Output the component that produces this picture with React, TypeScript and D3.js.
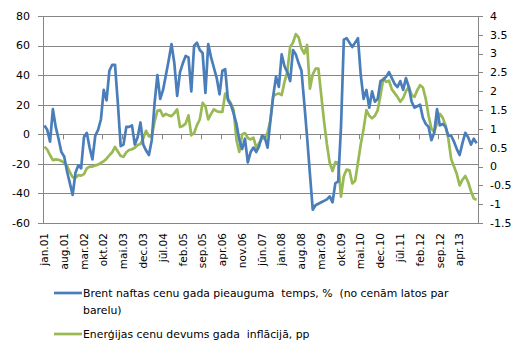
import React, { useEffect, useRef } from 'react';
import * as d3 from 'd3';

const monthNames = ['jan', 'feb', 'mar', 'apr', 'mai', 'jūn', 'jūl', 'aug', 'sep', 'okt', 'nov', 'dec'];
const startYear = 2001;
const labelEvery = 7;

// Brent naftas cenu gada pieauguma temps, % (left axis)
const brent = [
  6, 3, -5, 17, 5, -3, -12, -15, -25, -33,
  -41, -26, -21, -23, -2, 1, -9, -17, -1, 3,
  10, 30, 23, 43, 47, 47, 21, -8, -7, 5,
  5, 6, -7, -2, 8, -7, -11, -14, -4, 21,
  40, 24, 30, 40, 50, 61, 48, 26, 42, 48,
  53, 52, 29, 60, 62, 57, 55, 28, 61, 52,
  45, 38, 27, 43, 44, 23, 20, 14, 7, -4,
  -10, -3, -19, -12, -9, -12, -8, -1, -2, -9,
  9, 26, 39, 32, 54, 46, 42, 36, 57, 54,
  48, 43, 21, -2, -27, -51, -48, -47, -46, -45,
  -44, -42, -46, -33, -32, 5, 64, 65, 62, 59,
  62, 65, 40, 24, 30, 18, 29, 22, 24, 36,
  37, 39, 42, 38, 34, 32, 36, 30, 38, 32,
  22, 18, 19, 20, 11, 7, 5, -4, 1, 17,
  6, 7, 5, -1, -1, -5, -10, -14, -6, 1,
  -2, -7, -3, -6,
];

// Enerģijas cenu devums gada inflācijā, pp (right axis)
const energy = [
  0.53, 0.45, 0.3, 0.17, 0.19, 0.18, 0.15, 0.1, 0.02, -0.15,
  -0.28, -0.3, -0.23, -0.24, -0.2, -0.05, 0, 0, 0.03, 0.05,
  0.1, 0.14, 0.21, 0.3, 0.38, 0.52, 0.4, 0.28, 0.26, 0.38,
  0.44, 0.46, 0.5, 0.57, 0.6, 0.75, 0.95, 0.8, 0.8, 1.2,
  1.48, 1.5, 1.34, 1.4, 1.36, 1.34, 1.42, 1.52, 1.05, 1.08,
  1.14, 1.36, 0.83, 0.89, 1.1, 1.25, 1.69, 1.6, 1.25, 1.4,
  1.52, 1.47, 1.45, 1.45, 1.94, 1.8, 1.68, 1.5, 0.7, 0.39,
  0.85, 0.89, 0.76, 0.72, 0.77, 0.5, 0.62, 0.74, 0.74, 0.9,
  1.23, 1.87, 1.92, 1.94, 1.9, 2.25, 2.52, 3.18, 3.29, 3.52,
  3.43, 3.14, 3.0, 3.23, 2.07, 2.45, 2.6, 2.6, 1.9, 1.2,
  0.6, 0.1, -0.12, 0.12, 0.1, -0.8, -0.25, -0.08, -0.1, -0.45,
  -0.38, 0.1, 0.6, 1.0, 1.5, 1.35, 1.28, 1.35, 1.5, 1.9,
  2.34, 2.25, 2.28, 2.05, 1.95, 1.85, 1.72, 1.82, 2.0, 2.12,
  1.9, 1.85, 2.03, 2.16, 2.1, 1.8, 1.35, 1.01, 0.92, 1.15,
  1.4, 1.3, 1.1, 0.74, 0.2, 0.0, -0.2, -0.5, -0.35, -0.25,
  -0.41, -0.65, -0.85, -0.88,
];

const leftTicks = [-60, -40, -20, 0, 20, 40, 60, 80];
const rightTicks = [-1.5, -1, -0.5, 0, 0.5, 1, 1.5, 2, 2.5, 3, 3.5, 4];
const seriesNames = [
  ['Brent naftas cenu gada pieauguma  temps, %  (no cenām latos par', 'barelu)'],
  ['Enerģijas cenu devums gada  inflācijā, pp'],
];
const colors = ['#4a7ebb', '#98b954'];

const categories = brent.map((_, i) => {
  const m = i % 12;
  const y = startYear + Math.floor(i / 12);
  return `${monthNames[m]}.${String(y % 100).padStart(2, '0')}`;
});

const App = () => {
  const svgRef = useRef<SVGSVGElement | null>(null);

  useEffect(() => {
    const width = 525;
    const height = 354;
    const margin = { top: 16, right: 47, bottom: 131, left: 43 };
    const font = 'DejaVu Sans, Verdana, sans-serif';
    const gridColor = '#868686';

    const svg = d3.select(svgRef.current);
    svg.selectAll('*').remove();

    const x = d3.scaleBand<number>()
      .domain(d3.range(categories.length))
      .range([margin.left, width - margin.right]);

    const yLeft = d3.scaleLinear()
      .domain([-60, 80])
      .range([height - margin.bottom, margin.top]);

    const yRight = d3.scaleLinear()
      .domain([-1.5, 4])
      .range([height - margin.bottom, margin.top]);

    const cx = (i: number) => (x(i) as number) + x.bandwidth() / 2;

    // gridlines + left ticks
    svg.append('g')
      .selectAll('line')
      .data(leftTicks)
      .enter()
      .append('line')
      .attr('x1', margin.left - 5)
      .attr('x2', width - margin.right)
      .attr('y1', d => Math.round(yLeft(d)) + 0.5)
      .attr('y2', d => Math.round(yLeft(d)) + 0.5)
      .attr('stroke', gridColor)
      .attr('stroke-width', 1);

    svg.append('g')
      .selectAll('text')
      .data(leftTicks)
      .enter()
      .append('text')
      .attr('x', margin.left - 13)
      .attr('y', d => yLeft(d))
      .attr('dy', '0.35em')
      .attr('text-anchor', 'end')
      .attr('font-family', font)
      .attr('font-size', 11)
      .attr('fill', '#000')
      .text(d => d);

    // left axis line
    svg.append('line')
      .attr('x1', margin.left + 0.5)
      .attr('x2', margin.left + 0.5)
      .attr('y1', yLeft(80))
      .attr('y2', yLeft(-60))
      .attr('stroke', gridColor);

    // right axis
    const rx = width - margin.right;
    svg.append('line')
      .attr('x1', rx + 0.5)
      .attr('x2', rx + 0.5)
      .attr('y1', yRight(4))
      .attr('y2', yRight(-1.5))
      .attr('stroke', gridColor);

    svg.append('g')
      .selectAll('line')
      .data(rightTicks)
      .enter()
      .append('line')
      .attr('x1', rx)
      .attr('x2', rx + 5)
      .attr('y1', d => Math.round(yRight(d)) + 0.5)
      .attr('y2', d => Math.round(yRight(d)) + 0.5)
      .attr('stroke', gridColor);

    svg.append('g')
      .selectAll('text')
      .data(rightTicks)
      .enter()
      .append('text')
      .attr('x', rx + 12)
      .attr('y', d => yRight(d))
      .attr('dy', '0.35em')
      .attr('text-anchor', 'start')
      .attr('font-family', font)
      .attr('font-size', 11)
      .attr('fill', '#000')
      .text(d => d);

    // category axis at zero, tick marks every 7 months
    const tickIdx = d3.range(labelEvery, categories.length, labelEvery);
    svg.append('g')
      .selectAll('line')
      .data(tickIdx)
      .enter()
      .append('line')
      .attr('x1', d => Math.round(x(d) as number) + 0.5)
      .attr('x2', d => Math.round(x(d) as number) + 0.5)
      .attr('y1', yLeft(0))
      .attr('y2', yLeft(0) + 5)
      .attr('stroke', gridColor);

    const labelIdx = d3.range(0, categories.length, labelEvery);
    svg.append('g')
      .selectAll('text')
      .data(labelIdx)
      .enter()
      .append('text')
      .attr('transform', d => `translate(${cx(d)},${yLeft(-60) + 10}) rotate(-90)`)
      .attr('dy', '0.35em')
      .attr('text-anchor', 'end')
      .attr('font-family', font)
      .attr('font-size', 10.5)
      .attr('fill', '#000')
      .text(d => categories[d]);

    // series
    const blueLine = d3.line<number>()
      .x((_, i) => cx(i))
      .y(d => yLeft(d));

    const greenLine = d3.line<number>()
      .x((_, i) => cx(i))
      .y(d => yRight(d));

    svg.append('path')
      .datum(energy)
      .attr('d', greenLine)
      .attr('fill', 'none')
      .attr('stroke', colors[1])
      .attr('stroke-width', 2.7)
      .attr('stroke-linejoin', 'round');

    svg.append('path')
      .datum(brent)
      .attr('d', blueLine)
      .attr('fill', 'none')
      .attr('stroke', colors[0])
      .attr('stroke-width', 2.7)
      .attr('stroke-linejoin', 'round');

    // legend
    const legendY = [293, 334];
    const legend = svg.selectAll('.legend')
      .data(seriesNames)
      .enter()
      .append('g')
      .attr('class', 'legend')
      .attr('transform', (d, i) => `translate(54,${legendY[i]})`);

    legend.append('line')
      .attr('x1', 0)
      .attr('x2', 28)
      .attr('y1', 0)
      .attr('y2', 0)
      .attr('stroke', (d, i) => colors[i])
      .attr('stroke-width', 2.7);

    legend.each(function (lines) {
      const g = d3.select(this);
      lines.forEach((t, j) => {
        g.append('text')
          .attr('x', 29)
          .attr('y', j * 17)
          .attr('dy', '0.35em')
          .attr('font-family', font)
          .attr('font-size', 10.85)
          .attr('fill', '#000')
          .style('white-space', 'pre')
          .text(t);
      });
    });
  }, []);

  return (
    <svg
      ref={svgRef}
      width={525}
      height={354}
      style={{ position: 'absolute', left: 0, top: 0, background: '#fff' }}
    />
  );
};

export default App;
